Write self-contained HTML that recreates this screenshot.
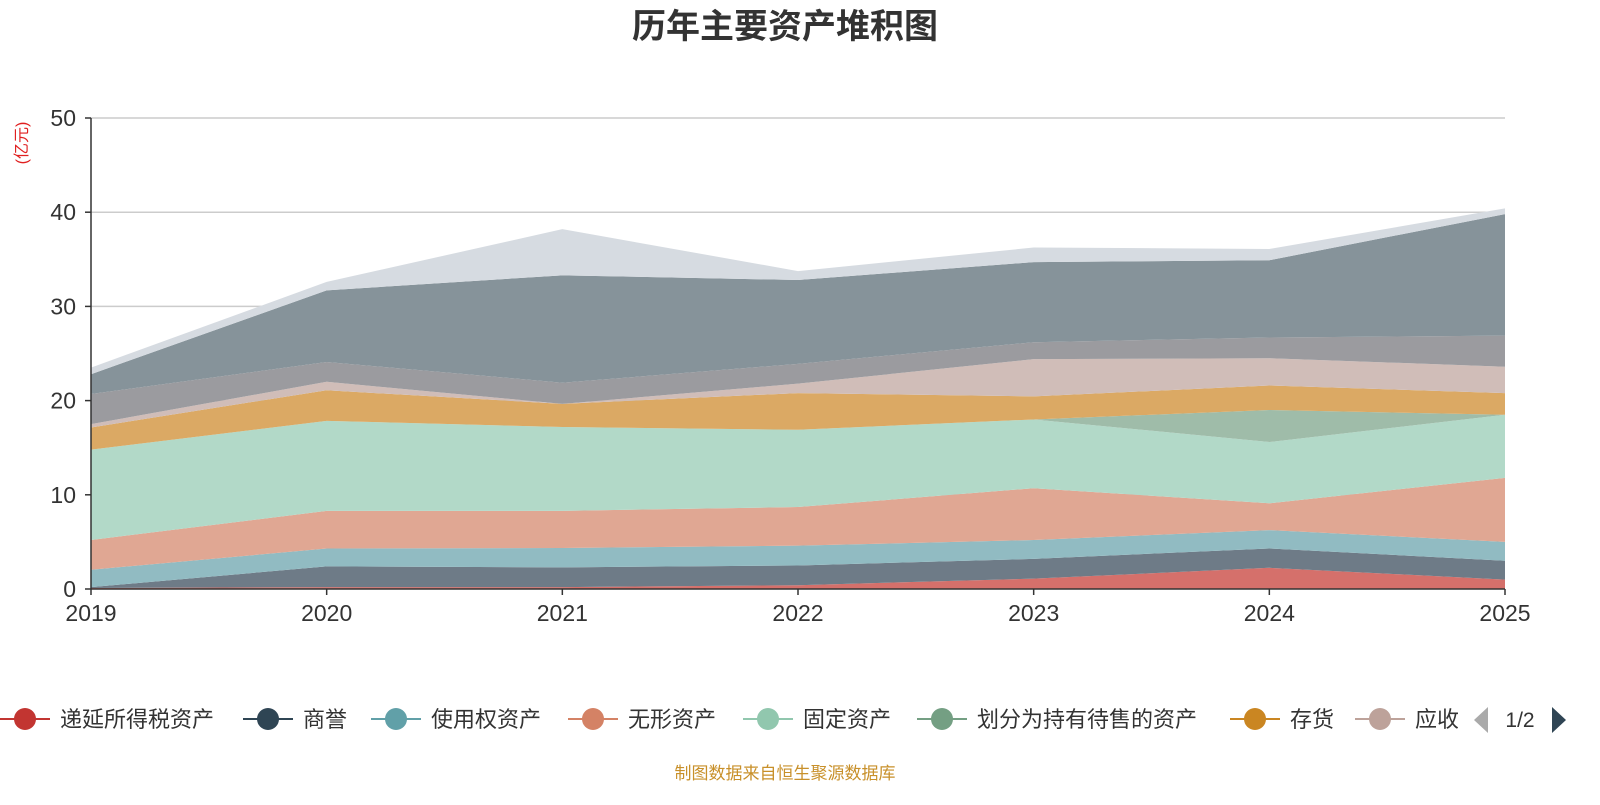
<!DOCTYPE html>
<html><head><meta charset="utf-8"><style>
body{margin:0;background:#fff;font-family:"Liberation Sans","Noto Sans CJK SC",sans-serif;}
svg text{font-family:"Liberation Sans","Noto Sans CJK SC",sans-serif;}
</style></head><body>
<svg id="chart" width="1600" height="800">
<text x="785" y="38" text-anchor="middle" font-size="34" font-weight="bold" fill="#333">历年主要资产堆积图</text>
<text transform="translate(27,143) rotate(-90)" text-anchor="middle" font-size="16" fill="#e02020">(亿元)</text>
<g id="grid"></g><g id="areas"></g><g id="axes"></g><g id="legend"></g>
<text x="785" y="779" text-anchor="middle" font-size="17" fill="#c8902a">制图数据来自恒生聚源数据库</text>
</svg>
<script>
const years=['2019','2020','2021','2022','2023','2024','2025'];
const yTicks=[0,10,20,30,40,50];
const seriesNames=['递延所得税资产','商誉','使用权资产','无形资产','固定资产','划分为持有待售的资产','存货','应收账款','合同资产','货币资金','交易性金融资产'];
const s0=[0.1,0.2,0.2,0.4,1.1,2.25,1.0];
const s1=[0.1,2.2,2.1,2.1,2.1,2.05,2.0];
const s2=[1.85,1.9,2.05,2.1,2.0,1.95,2.0];
const s3=[3.15,4.0,3.95,4.1,5.5,2.85,6.8];
const s4=[9.6,9.55,8.9,8.2,7.3,6.5,6.7];
const s5=[0,0,0,0,0,3.4,0];
const s6=[2.35,3.25,2.45,3.9,2.45,2.6,2.3];
const s7=[0.35,0.9,0,1.0,3.95,2.9,2.8];
const s8=[3.2,2.1,2.25,2.1,1.8,2.2,3.3];
const s9=[2.1,7.6,11.4,8.9,8.5,8.2,12.9];
const s10=[0.7,0.9,4.9,0.95,1.55,1.2,0.6];
const series=[s0,s1,s2,s3,s4,s5,s6,s7,s8,s9,s10];
const fills=['#d5706b','#6e7b87','#91bbc2','#e0a793','#b2d9c8','#9fbca9','#dba964','#d0bdb8','#9b9b9f','#86939a','#d6dbe1'];
const markers=['#c23531','#2f4554','#61a0a8','#d48265','#91c7ae','#749f83','#ca8622','#bda29a'];
const NS='http://www.w3.org/2000/svg';
const X0=91,X1=1505,Y0=589,Y1=118,VMAX=50;
const xs=i=>X0+(X1-X0)*i/(years.length-1);
const ys=v=>Y0-(Y0-Y1)*v/VMAX;
function mk(t,a,p){const e=document.createElementNS(NS,t);for(const k in a)e.setAttribute(k,a[k]);p.appendChild(e);return e;}
const grid=document.getElementById('grid'),areas=document.getElementById('areas'),axes=document.getElementById('axes'),leg=document.getElementById('legend');
yTicks.forEach(t=>{
 if(t>0){const g=mk('line',{x1:X0,x2:X1,y1:ys(t),y2:ys(t),stroke:'#ccc','stroke-width':1.5},grid);
 
 }
 const tk=mk('line',{x1:X0-6,x2:X0,y1:ys(t),y2:ys(t),stroke:'#333','stroke-width':1.5},axes);
 
 
 const l=mk('text',{x:X0-15,y:ys(t)+8,'text-anchor':'end','font-size':23,fill:'#333'},axes);l.textContent=t;
 
 
});
let base=years.map(()=>0);
series.forEach((s,k)=>{
 const top=base.map((b,i)=>b+s[i]);
 let d='M'+years.map((_,i)=>xs(i)+','+ys(top[i])).join('L');
 for(let i=years.length-1;i>=0;i--)d+='L'+xs(i)+','+ys(base[i]);
 const p=mk('path',{d:d+'Z',fill:fills[k]},areas);
 
 
 base=top;
});
const ya=mk('line',{x1:X0,x2:X0,y1:Y1,y2:Y0,stroke:'#333','stroke-width':1.5},axes);


const xa=mk('line',{x1:X0,x2:X1,y1:Y0,y2:Y0,stroke:'#333','stroke-width':1.5},axes);


years.forEach((y,i)=>{
 const tk=mk('line',{x1:xs(i),x2:xs(i),y1:Y0,y2:Y0+6,stroke:'#333','stroke-width':1.5},axes);
 
 
 const l=mk('text',{x:xs(i),y:621,'text-anchor':'middle','font-size':23,fill:'#333'},axes);l.textContent=y;
 
 
});
const lx=[25,268,396,593,768,942,1255,1380];
for(let k=0;k<8;k++){
 const g=mk('g',{},leg);
 
 
 mk('line',{x1:lx[k]-25,x2:lx[k]+25,y1:719,y2:719,stroke:markers[k],'stroke-width':2},g);
 mk('circle',{cx:lx[k],cy:719,r:11,fill:markers[k]},g);
 const t=mk('text',{x:lx[k]+35,y:727,'font-size':22,fill:'#333'},g);
 t.textContent=k==7?'应收':seriesNames[k];
}
mk('rect',{x:1458,y:700,width:14,height:40,fill:'#fff'},leg);
const pl=mk('path',{d:'M1488,707L1474,720L1488,733Z',fill:'#aaa'},leg);


const pt=mk('text',{x:1520,y:727,'text-anchor':'middle','font-size':21,fill:'#333'},leg);pt.textContent='1/2';


const pr=mk('path',{d:'M1552,707L1566,720L1552,733Z',fill:'#2f4554'},leg);


</script>
</body></html>
